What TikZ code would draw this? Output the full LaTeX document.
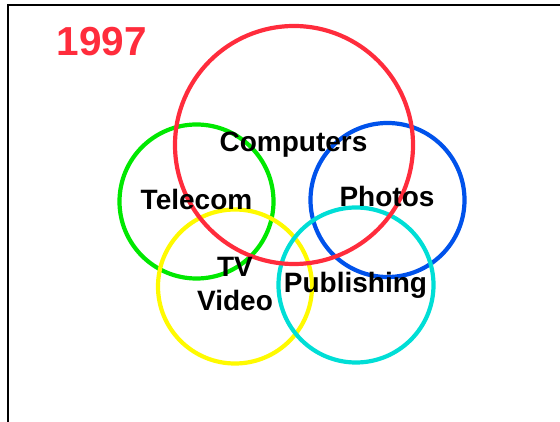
\documentclass[tikz,border=0pt]{standalone}
\usepackage{fontspec}
\setmainfont{Liberation Sans}
\definecolor{setred}{RGB}{255,44,60}
\definecolor{setgreen}{RGB}{0,232,0}
\definecolor{setblue}{RGB}{0,82,235}
\definecolor{setcyan}{RGB}{0,222,214}
\definecolor{setyellow}{RGB}{255,250,0}
\begin{document}
\begin{tikzpicture}[x=1pt,y=-1pt,
  ring/.style={circle,draw,line width=4.2pt,inner sep=0pt,minimum size=#1},
  lbl/.style={anchor=base,font=\bfseries\fontsize{28}{34}\selectfont,text=black,inner sep=0pt},
  frame/.style={line width=2pt,black}]
\useasboundingbox (0,0) rectangle (560,422);
% frame
\coordinate (fl) at (7.5,422);
\coordinate (tl) at (7.5,5.5);
\coordinate (tr) at (560,5.5);
\draw[frame] (fl) -- (tl) -- (tr);
% year
\node[anchor=base,font=\bfseries\fontsize{40.5}{48}\selectfont,text=setred,inner sep=0pt] (year) at (102,56) {1997};
% the five sets
\node[ring=154pt,draw=setgreen] (telecom) at (196.5,201.5) {};
\node[ring=154pt,draw=setyellow] (tvvideo) at (235,286.5) {};
\node[ring=154pt,draw=setblue] (photos) at (387.5,200) {};
\node[ring=155pt,draw=setcyan] (publishing) at (356,285) {};
\node[ring=238pt,draw=setred] (computers) at (294,145) {};
% labels
\node[lbl] (lcomputers) at (293.5,152) {Computers};
\node[lbl] (ltelecom) at (196.5,210) {Telecom};
\node[lbl] (lphotos) at (387,207) {Photos};
\node[lbl] (lpublishing) at (355.5,293) {Publishing};
\node[lbl] (ltv) at (235,277) {TV};
\node[lbl] (lvideo) at (235,311) {Video};
\end{tikzpicture}
\end{document}
